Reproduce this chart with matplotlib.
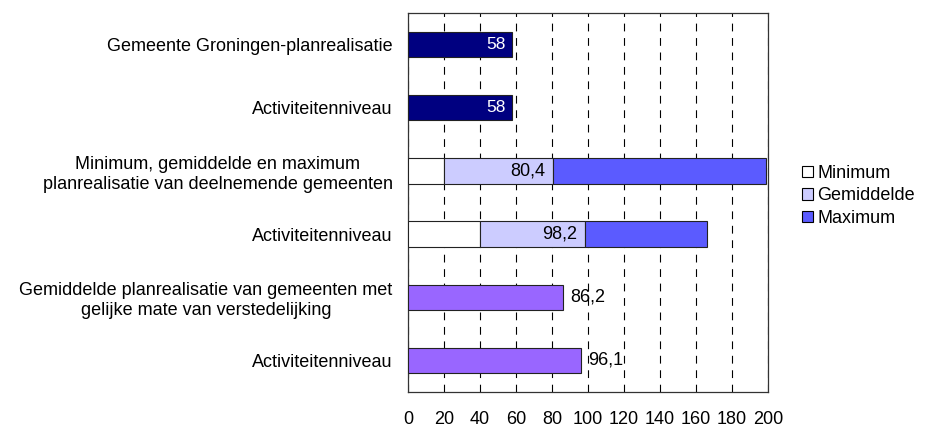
import matplotlib
matplotlib.use("Agg")
import matplotlib.pyplot as plt
from matplotlib.patches import Patch

plt.rcParams['font.family'] = ['Liberation Sans', 'DejaVu Sans']

categories = [
    "Gemeente Groningen-planrealisatie",
    "Activiteitenniveau",
    "Minimum, gemiddelde en maximum\nplanrealisatie van deelnemende gemeenten",
    "Activiteitenniveau",
    "Gemiddelde planrealisatie van gemeenten met\ngelijke mate van verstedelijking",
    "Activiteitenniveau",
]

# Groningen values (rows 0, 1)
groningen = [58, 58]
# Range of participating municipalities (rows 2, 3)
range_min = [20, 40]
range_mean = [80.4, 98.2]
range_max = [199, 166.3]
# Average of comparable municipalities (rows 4, 5)
comparable = [86.2, 96.1]

value_labels_groningen = ["58", "58"]
value_labels_mean = ["80,4", "98,2"]
value_labels_comparable = ["86,2", "96,1"]

xticks = list(range(0, 201, 20))

c_navy = "#000080"
c_min = "#FFFFFF"
c_mean = "#CCCCFF"
c_max = "#5B5BFF"
c_purple = "#9966FF"
c_edge = "#222222"

fig = plt.figure(figsize=(9.28, 4.29), dpi=100)
ax = fig.add_axes([408 / 928, 1 - 392 / 429, 360 / 928, 379 / 429])

ypos = list(range(len(categories)))
h = 0.4
fs = 13
gap = 4

for i, v in enumerate(groningen):
    y = ypos[i]
    ax.barh(y, v, height=h, color=c_navy, edgecolor=c_edge, linewidth=0.8, zorder=3)
    ax.text(v - gap, y, value_labels_groningen[i], ha="right", va="center",
            color="white", fontsize=fs - 0.5, zorder=4)

for j in range(2):
    y = ypos[2 + j]
    mn, me, mx = range_min[j], range_mean[j], range_max[j]
    ax.barh(y, mn, height=h, color=c_min, edgecolor=c_edge, linewidth=0.8, zorder=3)
    ax.barh(y, me - mn, left=mn, height=h, color=c_mean, edgecolor=c_edge, linewidth=0.8, zorder=3)
    ax.barh(y, mx - me, left=me, height=h, color=c_max, edgecolor=c_edge, linewidth=0.8, zorder=3)
    ax.text(me - gap, y, value_labels_mean[j], ha="right", va="center",
            color="black", fontsize=fs, zorder=4)

for j, v in enumerate(comparable):
    y = ypos[4 + j]
    ax.barh(y, v, height=h, color=c_purple, edgecolor=c_edge, linewidth=0.8, zorder=3)
    ax.text(v + gap, y, value_labels_comparable[j], ha="left", va="center",
            color="black", fontsize=fs, zorder=4)

ax.set_xlim(0, 200)
ax.set_ylim(len(categories) - 0.5, -0.5)
ax.set_xticks(xticks)
ax.set_xticklabels([str(t) for t in xticks], fontsize=fs)
ax.set_yticks(ypos)
ax.set_yticklabels(categories, fontsize=fs, multialignment="center")
ax.tick_params(axis="x", length=0, pad=14)
ax.tick_params(axis="y", length=0, pad=11)

ax.xaxis.grid(True, color="black", linestyle=(0, (7, 6)), linewidth=0.8, zorder=0)
ax.set_axisbelow(True)
for s in ax.spines.values():
    s.set_color("#333333")
    s.set_linewidth(0.9)

handles = [
    Patch(facecolor=c_min, edgecolor="black", linewidth=0.8, label="Minimum"),
    Patch(facecolor=c_mean, edgecolor="black", linewidth=0.8, label="Gemiddelde"),
    Patch(facecolor=c_max, edgecolor="black", linewidth=0.8, label="Maximum"),
]
fig.legend(handles=handles, loc="upper left", bbox_to_anchor=(802 / 928, 1 - 165 / 429),
           frameon=False, fontsize=fs, handlelength=0.6, handleheight=0.6,
           handletextpad=0.25, labelspacing=0.3, borderpad=0, borderaxespad=0)

fig.savefig("out.png", dpi=100)
